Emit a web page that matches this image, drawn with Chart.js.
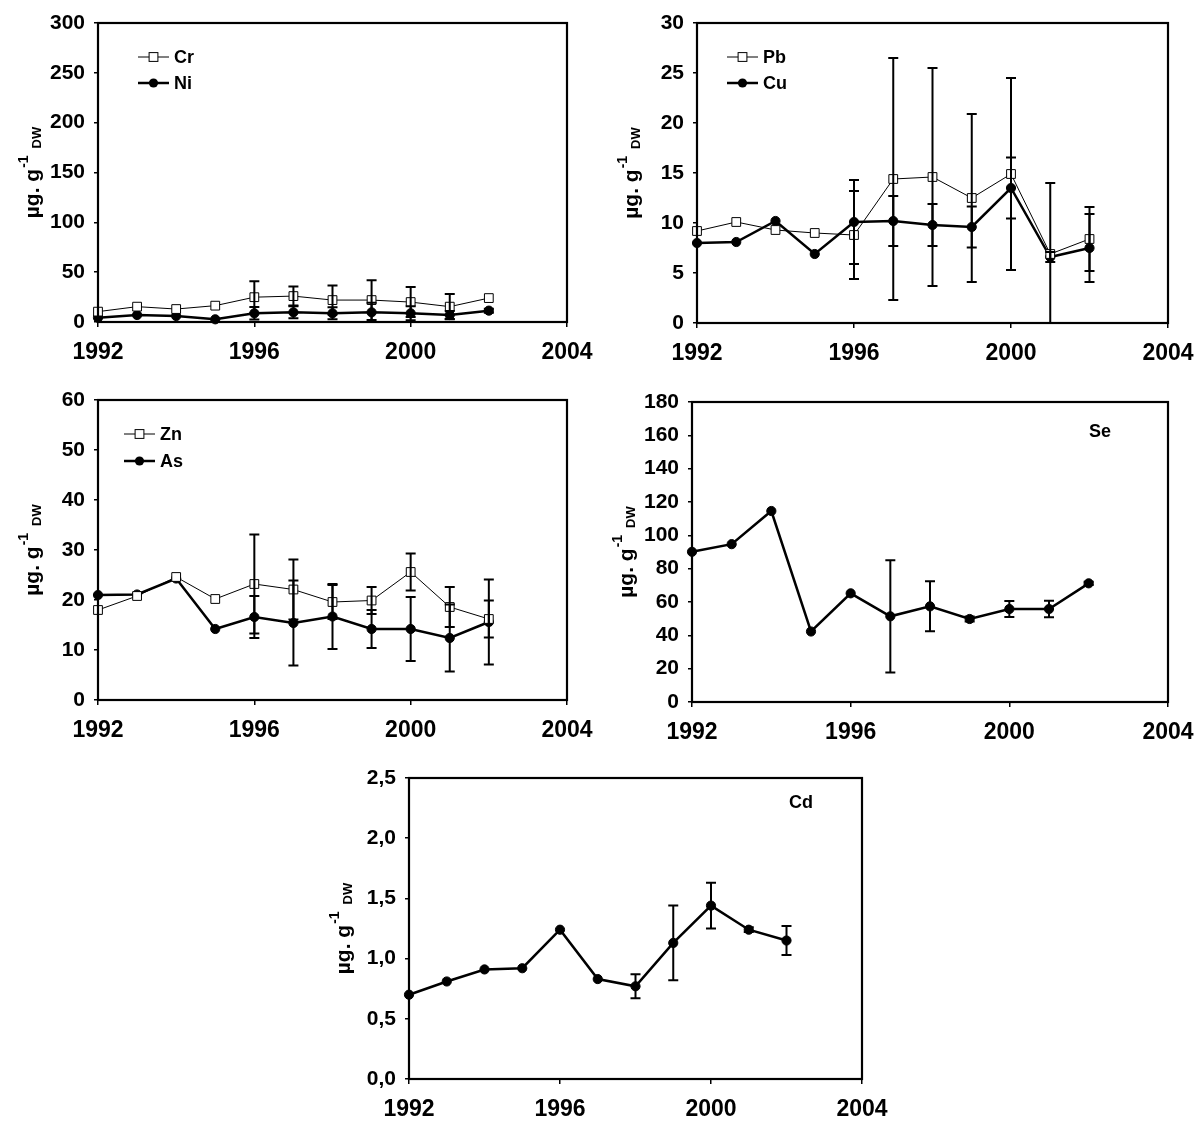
<!DOCTYPE html>
<html lang="en">
<head>
<meta charset="UTF-8">
<title>Metal concentrations 1992-2002</title>
<script src="https://cdn.jsdelivr.net/npm/chart.js@4"></script>
<style>
  body { margin: 0; background: #fff; }
  .panel { position: absolute; }
</style>
</head>
<body>
<div class="panel" id="w1"><canvas id="c1"></canvas></div>
<div class="panel" id="w2"><canvas id="c2"></canvas></div>
<div class="panel" id="w3"><canvas id="c3"></canvas></div>
<div class="panel" id="w4"><canvas id="c4"></canvas></div>
<div class="panel" id="w5"><canvas id="c5"></canvas></div>
<script>
// sampling years and x axis ticks
const years = [1992, 1993, 1994, 1995, 1996, 1997, 1998, 1999, 2000, 2001, 2002];
const xTicks = [1992, 1996, 2000, 2004];

// values (µg g-1 DW), with +/- error
const cr    = [10.4, 15.4, 13.0, 16.4, 24.9, 26.0, 22.0, 22.0, 20.0, 15.4, 24.0];
const crErr = [0, 0, 0, 0, 16.0, 9.5, 14.5, 20.0, 15.0, 12.6, 0];
const ni    = [4.3, 7.0, 6.0, 2.7, 8.7, 9.7, 8.7, 9.7, 8.7, 7.0, 11.4];
const niErr = [0, 0, 0, 0, 6.3, 6.0, 6.0, 9.7, 7.0, 4.0, 2.0];

const pb    = [9.2, 10.1, 9.3, 9.0, 8.8, 14.4, 14.6, 12.5, 14.9, 6.9, 8.4];
const pbErr = [0, 0, 0, 0, 4.4, 12.1, 10.9, 8.4, 9.6, 7.1, 3.2];
const cu    = [8.0, 8.1, 10.2, 6.9, 10.1, 10.2, 9.8, 9.6, 13.5, 6.6, 7.5];
const cuErr = [0, 0, 0, 0, 4.2, 2.5, 2.1, 2.05, 3.05, 0.5, 3.4];

const zn    = [18.0, 20.8, 24.6, 20.2, 23.2, 22.1, 19.6, 19.9, 25.6, 18.6, 16.2];
const znErr = [0, 0, 0, 0, 9.9, 6.0, 3.4, 2.7, 3.7, 4.0, 3.7];
const asv   = [21.0, 21.1, 24.3, 14.2, 16.6, 15.4, 16.7, 14.2, 14.2, 12.4, 15.6];
const asErr = [0, 0, 0, 0, 4.2, 8.5, 6.5, 3.8, 6.4, 6.7, 8.5];

const se    = [90.1, 94.7, 114.6, 42.3, 65.2, 51.4, 57.4, 49.8, 55.8, 55.8, 71.2];
const seErr = [0, 0, 0, 0, 0, 33.7, 15.0, 1.5, 4.8, 5.0, 1.0];

const cd    = [0.70, 0.81, 0.91, 0.92, 1.24, 0.83, 0.77, 1.13, 1.44, 1.24, 1.15];
const cdErr = [0, 0, 0, 0, 0, 0, 0.10, 0.31, 0.19, 0.02, 0.12];

// y axis ranges
const yMaxes  = [300, 30, 60, 180, 2.5];
const ySteps  = [50, 5, 10, 20, 0.5];

Chart.defaults.font.family = "'Liberation Sans', Arial, sans-serif";
Chart.defaults.font.weight = 'bold';
Chart.defaults.color = '#000';

const PADL = 95, PADT = 15, PADR = 32, PADB = 50;

function openSeries(label, data, err) {
  return {
    label, data: data.map((v, i) => ({ x: years[i], y: v })), err,
    borderColor: '#000', borderWidth: 1, pointStyle: 'rect', pointRadius: 6.2,
    pointBackgroundColor: '#fff', pointBorderColor: '#000', pointBorderWidth: 1,
    tension: 0, clip: false
  };
}
function filledSeries(label, data, err) {
  return {
    label, data: data.map((v, i) => ({ x: years[i], y: v })), err,
    borderColor: '#000', borderWidth: 2.5, pointStyle: 'circle', pointRadius: 4.6,
    pointBackgroundColor: '#000', pointBorderColor: '#000', pointBorderWidth: 1,
    tension: 0, clip: false
  };
}

const panels = [
  { id: 'c1', wrap: 'w1', box: [98, 23, 567, 322],
    datasets: [openSeries('Cr', cr, crErr), filledSeries('Ni', ni, niErr)],
    legend: { x1: 40, x2: 71, tx: 76, ys: [34, 60] } },
  { id: 'c2', wrap: 'w2', box: [697, 23, 1168, 323],
    datasets: [openSeries('Pb', pb, pbErr), filledSeries('Cu', cu, cuErr)],
    legend: { x1: 30, x2: 61, tx: 66, ys: [34, 60] } },
  { id: 'c3', wrap: 'w3', box: [98, 400, 567, 700],
    datasets: [openSeries('Zn', zn, znErr), filledSeries('As', asv, asErr)],
    legend: { x1: 26, x2: 57, tx: 62, ys: [34, 61] } },
  { id: 'c4', wrap: 'w4', box: [692, 402, 1168, 702],
    datasets: [filledSeries('Se', se, seErr)],
    tag: { text: 'Se', x: 408, y: 30 } },
  { id: 'c5', wrap: 'w5', box: [409, 778, 862, 1079], comma: true,
    datasets: [filledSeries('Cd', cd, cdErr)],
    tag: { text: 'Cd', x: 392, y: 25 } }
];

// frame, error bars, legend and y title
const decor = {
  id: 'decor',
  afterDatasetsDraw(chart, args, opts) {
    const ctx = chart.ctx, a = chart.chartArea;
    const xs = chart.scales.x, ys = chart.scales.y;
    ctx.save();
    // error bars
    ctx.strokeStyle = '#000';
    ctx.lineWidth = 2;
    chart.data.datasets.forEach(ds => {
      ds.data.forEach((p, i) => {
        const e = ds.err[i];
        if (!e) return;
        const x = xs.getPixelForValue(p.x);
        const yt = ys.getPixelForValue(p.y + e);
        const yb = Math.min(ys.getPixelForValue(Math.max(p.y - e, 0)), a.bottom);
        ctx.beginPath();
        ctx.moveTo(x, yt); ctx.lineTo(x, yb);
        ctx.moveTo(x - 5, yt); ctx.lineTo(x + 5, yt);
        ctx.moveTo(x - 5, yb); ctx.lineTo(x + 5, yb);
        ctx.stroke();
      });
    });
    // frame
    ctx.lineWidth = 2.2;
    ctx.strokeRect(a.left, a.top, a.right - a.left, a.bottom - a.top);

    // legend
    const lg = opts.legend;
    if (lg) {
      chart.data.datasets.forEach((ds, i) => {
        const y = a.top + lg.ys[i];
        ctx.strokeStyle = '#000';
        ctx.lineWidth = ds.borderWidth;
        ctx.beginPath();
        ctx.moveTo(a.left + lg.x1, y); ctx.lineTo(a.left + lg.x2, y);
        ctx.stroke();
        const mx = a.left + (lg.x1 + lg.x2) / 2;
        if (ds.pointStyle === 'rect') {
          ctx.fillStyle = '#fff'; ctx.lineWidth = 1;
          ctx.fillRect(mx - 4.4, y - 4.4, 8.8, 8.8);
          ctx.strokeRect(mx - 4.4, y - 4.4, 8.8, 8.8);
        } else {
          ctx.fillStyle = '#000';
          ctx.beginPath(); ctx.arc(mx, y, 4.6, 0, Math.PI * 2); ctx.fill();
        }
        ctx.fillStyle = '#000';
        ctx.font = "bold 18px 'Liberation Sans', Arial, sans-serif";
        ctx.textBaseline = 'middle';
        ctx.textAlign = 'left';
        ctx.fillText(ds.label, a.left + lg.tx, y + 1);
      });
    }
    if (opts.tag) {
      ctx.fillStyle = '#000';
      ctx.font = "bold 18px 'Liberation Sans', Arial, sans-serif";
      ctx.textBaseline = 'middle';
      ctx.textAlign = 'center';
      ctx.fillText(opts.tag.text, a.left + opts.tag.x, a.top + opts.tag.y);
    }

    // y axis title: µg. g^-1 DW
    const main = 'µg. g', sup = '-1', sub = 'DW';
    const fMain = "bold 21px 'Liberation Sans', Arial, sans-serif";
    const fSup = "bold 14px 'Liberation Sans', Arial, sans-serif";
    const fSub = "bold 13px 'Liberation Sans', Arial, sans-serif";
    ctx.font = fMain; const wMain = ctx.measureText(main).width;
    ctx.font = fSup; const wSup = ctx.measureText(sup).width;
    ctx.font = fSub; const wSub = ctx.measureText(sub).width;
    const gap = 7;
    const total = wMain + 1 + wSup + gap + wSub;
    ctx.translate(a.left - 59, (a.top + a.bottom) / 2);
    ctx.rotate(-Math.PI / 2);
    ctx.textAlign = 'left';
    ctx.textBaseline = 'alphabetic';
    let x = -total / 2;
    ctx.font = fMain; ctx.fillText(main, x, 0); x += wMain + 1;
    ctx.font = fSup; ctx.fillText(sup, x, -11); x += wSup + gap;
    ctx.font = fSub; ctx.fillText(sub, x, 2);
    ctx.restore();
  }
};

panels.forEach((p, k) => {
  const [l, t, r, b] = p.box;
  const w = r - l + PADL + PADR, h = b - t + PADT + PADB;
  const wrap = document.getElementById(p.wrap);
  wrap.style.left = (l - PADL) + 'px';
  wrap.style.top = (t - PADT) + 'px';
  const cv = document.getElementById(p.id);
  cv.width = w; cv.height = h;
  cv.style.width = w + 'px'; cv.style.height = h + 'px';

  new Chart(cv, {
    type: 'line',
    data: { datasets: p.datasets },
    options: {
      responsive: false,
      animation: false,
      devicePixelRatio: 1,
      layout: { padding: { top: PADT, right: PADR, left: 0, bottom: 0 } },
      plugins: {
        legend: { display: false },
        tooltip: { enabled: false },
        decor: { legend: p.legend, tag: p.tag }
      },
      scales: {
        x: {
          type: 'linear', min: xTicks[0], max: xTicks[xTicks.length - 1],
          afterBuildTicks: s => { s.ticks = xTicks.map(v => ({ value: v })); },
          afterFit: s => { s.height = PADB; s.paddingLeft = 0; s.paddingRight = 0; },
          border: { display: false },
          grid: { drawOnChartArea: false, drawTicks: true, tickLength: 5, color: '#000', lineWidth: 1.5 },
          ticks: { padding: 12, maxRotation: 0, font: { size: 23, weight: 'bold' }, callback: v => String(v) }
        },
        y: {
          min: 0, max: yMaxes[k],
          afterFit: s => { s.width = PADL; s.paddingTop = 0; s.paddingBottom = 0; },
          border: { display: false },
          grid: { drawOnChartArea: false, drawTicks: true, tickLength: 4, color: '#000', lineWidth: 1.5 },
          ticks: {
            stepSize: ySteps[k], padding: 9, font: { size: 21, weight: 'bold' },
            callback: v => p.comma ? v.toFixed(1).replace('.', ',') : String(v)
          }
        }
      }
    },
    plugins: [decor]
  });
});
</script>
</body>
</html>
